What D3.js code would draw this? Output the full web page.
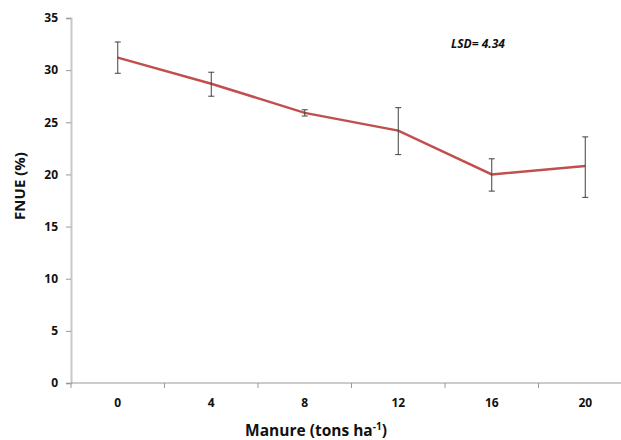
<!DOCTYPE html>
<html>
<head>
<meta charset="utf-8">
<script src="https://cdn.jsdelivr.net/npm/d3@7"></script>
<style>
  body { margin: 0; background: #fff; }
  text { font-family: "Open Sans", "Liberation Sans", sans-serif; }
</style>
</head>
<body>
<div id="chart"></div>
<script>
// manure rates (tons/ha)
var categories = ['0', '4', '8', '12', '16', '20']
var fnue = [31.2, 28.7, 25.9, 24.2, 20.0, 20.8]
var errUp = [1.5, 1.1, 0.3, 2.2, 1.5, 2.8]
var errDown = [1.5, 1.2, 0.3, 2.3, 1.6, 3.0]
var yTicks = [0, 5, 10, 15, 20, 25, 30, 35]

var W = 621, H = 440
var plotLeft = 71, plotTop = 18, plotBottom = 383
var bandW = 93.5

var svg = d3.select('#chart').append('svg')
  .attr('width', W).attr('height', H)

var x = d3.scaleBand()
  .domain(categories)
  .range([plotLeft, plotLeft + bandW * categories.length])

var y = d3.scaleLinear().domain([0, 35]).range([plotBottom, plotTop])

// y axis
var yAxis = svg.append('g')
  .attr('transform', 'translate(' + plotLeft + ',0)')
  .call(d3.axisLeft(y).tickValues(yTicks).tickSize(5).tickPadding(8))
yAxis.select('.domain').attr('stroke', '#c8c8c8').attr('stroke-width', 2)
yAxis.selectAll('.tick line').attr('stroke', '#999')
yAxis.selectAll('.tick text')
  .attr('font-size', 12).attr('font-weight', 'bold').attr('fill', '#111')

// x axis: ticks sit on band edges
var edges = d3.range(categories.length + 1).map(function (i) { return plotLeft + i * bandW })
var xg = svg.append('g')
xg.append('line')
  .attr('x1', plotLeft).attr('x2', edges[edges.length - 1])
  .attr('y1', plotBottom).attr('y2', plotBottom)
  .attr('stroke', '#999').attr('stroke-width', 1.2)
xg.selectAll('.edge').data(edges).enter().append('line')
  .attr('x1', function (d) { return d }).attr('x2', function (d) { return d })
  .attr('y1', plotBottom).attr('y2', plotBottom + 5)
  .attr('stroke', '#999')
xg.selectAll('.lab').data(categories).enter().append('text')
  .attr('x', function (d) { return x(d) + x.bandwidth() / 2 })
  .attr('y', plotBottom + 24)
  .attr('text-anchor', 'middle')
  .attr('font-size', 12).attr('font-weight', 'bold').attr('fill', '#111')
  .text(function (d) { return d })

var cx = function (i) { return x(categories[i]) + x.bandwidth() / 2 }

// line
var line = d3.line()
  .x(function (d, i) { return cx(i) })
  .y(function (d) { return y(d) })
svg.append('path').datum(fnue)
  .attr('d', line)
  .attr('fill', 'none')
  .attr('stroke', '#c0504d')
  .attr('stroke-width', 2.5)

// error bars
var eb = svg.append('g').attr('stroke', '#404040').attr('stroke-width', 1)
fnue.forEach(function (v, i) {
  var hi = y(v + errUp[i]), lo = y(v - errDown[i])
  eb.append('line').attr('x1', cx(i)).attr('x2', cx(i)).attr('y1', hi).attr('y2', lo)
  eb.append('line').attr('x1', cx(i) - 3).attr('x2', cx(i) + 3).attr('y1', hi).attr('y2', hi)
  eb.append('line').attr('x1', cx(i) - 3).attr('x2', cx(i) + 3).attr('y1', lo).attr('y2', lo)
})

// annotation
svg.append('text')
  .attr('x', 451).attr('y', 48)
  .attr('font-size', 12).attr('font-weight', 'bold').attr('font-style', 'italic')
  .attr('fill', '#111')
  .text('LSD= 4.34')

// axis titles
svg.append('text')
  .attr('transform', 'translate(25,186) rotate(-90)')
  .attr('text-anchor', 'middle')
  .attr('font-size', 15).attr('font-weight', 'bold').attr('fill', '#111')
  .text('FNUE (%)')

var xt = svg.append('text')
  .attr('x', 316).attr('y', 436)
  .attr('text-anchor', 'middle')
  .attr('font-size', 15.5).attr('font-weight', 'bold').attr('fill', '#111')
xt.append('tspan').text('Manure (tons ha')
xt.append('tspan').attr('dy', -6).attr('font-size', 10).text('-1')
xt.append('tspan').attr('dy', 6).text(')')
</script>
</body>
</html>
